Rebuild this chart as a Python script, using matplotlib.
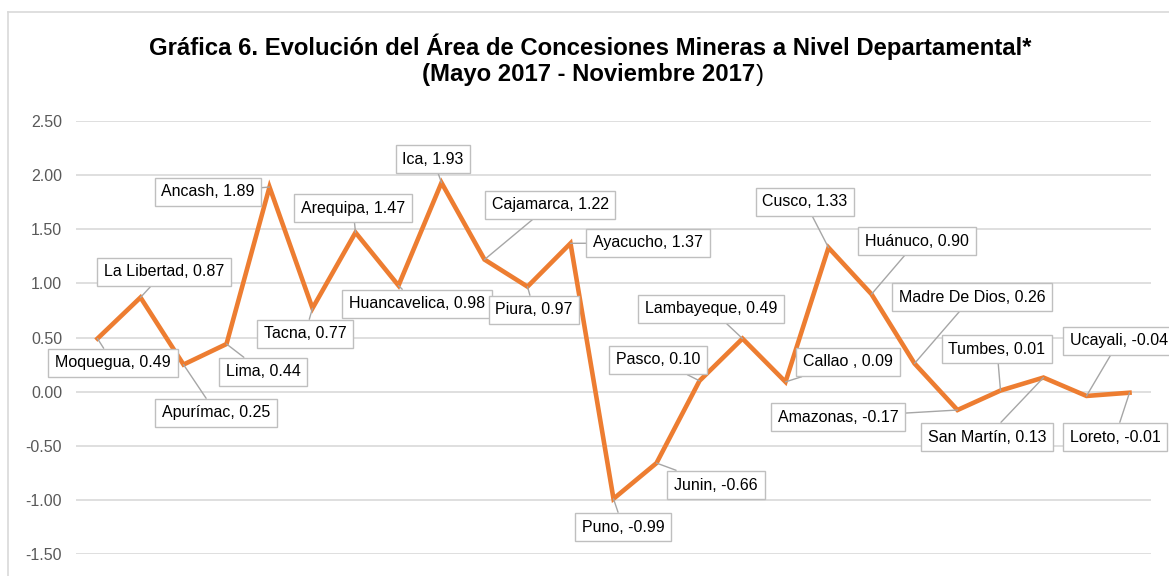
import matplotlib
matplotlib.use("Agg")
import matplotlib.pyplot as plt
from matplotlib.lines import Line2D

plt.rcParams['font.family'] = ['Liberation Sans', 'DejaVu Sans']

# data
departamentos = ['Moquegua', 'La Libertad', 'Apurímac', 'Lima', 'Ancash', 'Tacna',
                 'Arequipa', 'Huancavelica', 'Ica', 'Cajamarca', 'Piura', 'Ayacucho',
                 'Puno', 'Junin', 'Pasco', 'Lambayeque', 'Callao ', 'Cusco', 'Huánuco',
                 'Madre De Dios', 'Amazonas', 'Tumbes', 'San Martín', 'Ucayali', 'Loreto']
variacion = [0.49, 0.87, 0.25, 0.44, 1.89, 0.77, 1.47, 0.98, 1.93, 1.22, 0.97, 1.37,
             -0.99, -0.66, 0.10, 0.49, 0.09, 1.33, 0.90, 0.26, -0.17, 0.01, 0.13,
             -0.04, -0.01]
yticks = [-1.5, -1.0, -0.5, 0.0, 0.5, 1.0, 1.5, 2.0, 2.5]

# label box centres, image pixels (x from left, y from top)
label_pos = [(113, 363), (164, 272), (216, 413), (263, 372), (208, 192), (305, 334),
             (353, 208), (417, 304), (433, 159), (550, 205), (534, 310), (648, 243),
             (623, 527), (716, 485), (658, 360), (711, 309), (848, 362), (805, 202),
             (917, 241), (972, 297), (838, 417), (997, 349), (987, 437), (1119, 341),
             (1115, 437)]

W, H = 1169, 576
fig = plt.figure(figsize=(W / 100, H / 100), dpi=100)
ax = fig.add_axes([76 / W, (H - 554) / H, (1151 - 76) / W, (554 - 121) / H])

xs = list(range(len(departamentos)))
ax.plot(xs, variacion, color='#ED7D31', lw=3.3, solid_joinstyle='miter', zorder=3)

ax.set_xlim(-0.5, len(departamentos) - 0.5)
ax.set_ylim(-1.5, 2.5)
ax.set_yticks(yticks)
ax.set_yticklabels([f'{v:.2f}' for v in yticks])
ax.set_xticks([])
ax.tick_params(axis='y', length=0, pad=10, labelsize=11.5, labelcolor='#595959')
ax.grid(axis='y', color='#d9d9d9', lw=1.2)
ax.set_axisbelow(True)
for s in ax.spines.values():
    s.set_visible(False)

for name, val, x, (px, py) in zip(departamentos, variacion, xs, label_pos):
    ax.annotate(f'{name}, {val:.2f}', xy=(x, val), xycoords='data',
                xytext=(px, H - py), textcoords='figure pixels',
                ha='center', va='center', fontsize=11.5, color='#000000',
                bbox=dict(boxstyle='square,pad=0.42', fc='white', ec='#bfbfbf', lw=1),
                arrowprops=dict(arrowstyle='-', color='#a6a6a6', lw=1,
                                shrinkA=0, shrinkB=0),
                zorder=4, annotation_clip=False)

# title
t1 = fig.text(590 / W, 1 - 47 / H,
              'Gráfica 6. Evolución del Área de Concesiones Mineras a Nivel Departamental*',
              ha='center', va='center', fontsize=17.2, fontweight='bold')
t2 = fig.text(589 / W, 1 - 75 / H, '(Mayo 2017 - Noviembre 2017',
              ha='center', va='center', fontsize=17.2, fontweight='bold')
ax.annotate(')', xy=(1, 0.5), xycoords=t2, ha='left', va='center', fontsize=17.2)

# chart frame
fig.add_artist(Line2D([8 / W, 1], [1 - 12 / H, 1 - 12 / H], color='#d9d9d9', lw=1.2))
fig.add_artist(Line2D([8 / W, 8 / W], [0, 1 - 12 / H], color='#d9d9d9', lw=1.2))

fig.savefig('out.png', dpi=100)
